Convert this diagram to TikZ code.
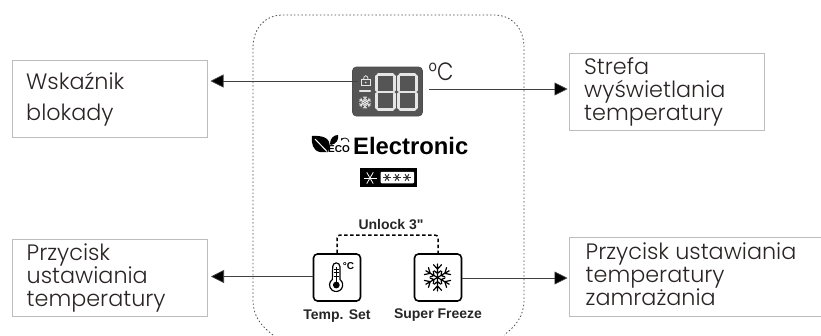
\documentclass[tikz,border=0pt]{standalone}
\usepackage{fontspec}
\setmainfont{Poppins Light}
\newfontfamily\heavy{Liberation Sans}
\usetikzlibrary{arrows.meta}
\definecolor{boxgray}{HTML}{BDBDBD}
\definecolor{txt}{HTML}{2A2424}
\definecolor{panel}{HTML}{555555}
\definecolor{seg}{HTML}{E6E6E6}
\tikzset{
  x=1pt,y=-1pt,
  infobox/.style={draw=boxgray,line width=1pt,fill=white,inner sep=0pt,anchor=north west},
  infotext/.style={anchor=north west,inner sep=0pt,align=left,text=txt,font=\fontsize{22.3}{23}\selectfont},
  flow/.style={draw=black!75,line width=0.7pt,shorten >=2pt,-{Triangle[length=13pt,width=13pt,fill=black]}},
  button/.style={draw=black,line width=1.6pt,rounded corners=4pt,fill=white,minimum width=47pt,minimum height=47pt,inner sep=0pt},
  btnlabel/.style={font=\heavy\bfseries\fontsize{14}{14}\selectfont,text=black!85,inner sep=0pt},
  sg/.style={line width=2.5pt,draw=seg,line cap=round},
}
\newcommand{\digitat}[2]{%
 \begin{scope}[shift={(#1,#2)}]
  \draw[sg] (1.5,0)--(16.5,0) (1.5,17.5)--(16.5,17.5) (1.5,35)--(16.5,35)
            (0,1.5)--(0,16) (0,19)--(0,33.5) (18,1.5)--(18,16) (18,19)--(18,33.5);
 \end{scope}}
\newcommand{\flake}[4]{% x y scale linewidth/colour
 \begin{scope}[shift={(#1,#2)},scale=#3]
  \foreach \a in {30,90,150,210,270,330}{
   \begin{scope}[rotate=\a]
    \draw[#4,line cap=round] (0,0)--(10,0) (6.2,0)--(9.5,3) (6.2,0)--(9.5,-3) (3,0)--(5,2.4) (3,0)--(5,-2.4);
   \end{scope}}
 \end{scope}}
\newcommand{\sixstar}[4]{%
 \foreach \a in {0,60,120}{\draw[#4,line cap=butt] ([shift={(\a:#3)}]#1,#2) -- ([shift={(\a+180:#3)}]#1,#2);}}
\begin{document}
\begin{tikzpicture}
\useasboundingbox (0,0) rectangle (821,335);
% panel outline
\begin{scope}
\clip (0,0) rectangle (821,335);
\draw[black!70,line width=0.8pt,dash pattern=on 1.5pt off 2.2pt] (273,335) .. controls (261,326) and (253,316) .. (253,300) -- (253,48)
  .. controls (253,28) and (265,15) .. (283,15) -- (494,15)
  .. controls (512,15) and (524,28) .. (524,48) -- (524,300) .. controls (524,316) and (516,326) .. (504,335);
\end{scope}
% boxes
\node[infobox,minimum width=195pt,minimum height=77pt] (lock) at (11.5,60) {};
\node[infobox,minimum width=195pt,minimum height=77pt] (tset) at (12,238.5) {};
\node[infobox,minimum width=195pt,minimum height=77pt] (zone) at (569,52.5) {};
\node[infobox,minimum width=260pt,minimum height=79pt] (frz) at (569,236.5) {};
\node[infotext,font=\fontsize{22.3}{31}\selectfont] (t1) at (26,72.5) {Wskaźnik\\blokady};
\node[infotext] (t2) at (26.5,243.5) {Przycisk\\ustawiania\\temperatury};
\node[infotext] (t3) at (584,57) {Strefa\\wyświetlania\\temperatury};
\node[infotext] (t4) at (585.5,243) {Przycisk ustawiania\\temperatury\\zamrażania};
% display
\node[draw=black!70,fill=panel,line width=0.8pt,rounded corners=4pt,minimum width=70pt,minimum height=49pt,inner sep=0pt] (disp) at (387.5,91.5) {};
\digitat{376.5}{74.5}
\digitat{398.5}{74.5}
\draw[seg,line width=2.4pt,line cap=round] (360,91)--(370,91);
\draw[seg,line width=0.8pt] (361.5,79.5) rectangle (370,85.5);
\draw[seg,line width=0.8pt] (363.5,79.5) arc[start angle=180,end angle=360,x radius=2.3,y radius=3.8];
\fill[seg] (365.7,82.5) circle (0.8);
\flake{365}{102.5}{0.6}{line width=0.8pt,seg}
\coordinate (lockend) at (358,81);
\coordinate (dispend) at (429,89);
\node[inner sep=0pt,text=txt,xscale=.85,font=\fontsize{25}{25}\selectfont] (deg) at (441,72) {°C};
% logo
\node[inner sep=0pt,anchor=west,font=\heavy\bfseries\fontsize{23.8}{24}\selectfont,text=black] (brand) at (353,146) {Electronic};
\fill[black] (312,136) .. controls (326,135) and (333,140) .. (328,152) -- (320,152) .. controls (313,151) and (311,143) .. (312,136) -- cycle;
\draw[white,line width=1pt] (315,139) -- (327,151.5);
\fill[black] (330,144) .. controls (330,138) and (334,135) .. (338,135) .. controls (339,140) and (336,144) .. (331,145) -- cycle;
\node[inner sep=0pt,anchor=center,font=\heavy\bfseries\fontsize{10}{10}\selectfont] (eco) at (339,148.7) {ECO};
\draw[black,line width=0.8pt,-{Stealth[length=2.5pt]}] (349,142) arc[start angle=0,end angle=-160,radius=4];
% star badge
\node[fill=black,minimum width=56.5pt,minimum height=18.5pt,inner sep=0pt] (badge) at (388.3,177.5) {};
\node[fill=white,rounded corners=1pt,minimum width=33.5pt,minimum height=11.5pt,inner sep=0pt] (stars) at (397.3,177.5) {};
\sixstar{370}{178}{6.5}{white,line width=0.8pt}
\sixstar{387}{177.5}{3.8}{black!80,line width=1pt}
\sixstar{397}{177.5}{3.8}{black!80,line width=1pt}
\sixstar{407}{177.5}{3.8}{black!80,line width=1pt}
% buttons
\node[button] (bt) at (337,277.5) {};
\node[button] (bf) at (438,277.5) {};
\coordinate (c1) at (338,235);
\coordinate (c2) at (437,235);
\draw[black,line width=1.5pt,dash pattern=on 3.5pt off 2.5pt,rounded corners=3pt] (bt.north) -- (bt.north |- c1) -- (bf.north |- c2) -- (bf.north);
\node[btnlabel] (ul) at (391,225) {Unlock 3"};
\node[btnlabel] (bl1) at (337,316) {Temp. Set};
\node[btnlabel] (bl2) at (438,315) {Super Freeze};
% thermometer
\draw[black,line width=1.2pt] (332.7,266.5) arc[start angle=180,end angle=360,radius=3.6] -- (339.9,279.5) arc[start angle=-55,end angle=235,radius=6.6] -- cycle;
\fill[black] (336.3,285) circle (3.4);
\draw[black,line width=1pt] (336.3,267)--(336.3,285);
\draw[black,line width=.6pt] (333.5,269)--(335.5,269) (333.5,272.5)--(335.5,272.5) (333.5,276)--(335.5,276) (337,269)--(339,269) (337,272.5)--(339,272.5) (337,276)--(339,276);
\node[inner sep=0pt,font=\heavy\bfseries\fontsize{10}{10}\selectfont] (deg2) at (348.5,266) {°C};
\flake{437.5}{277.5}{1.35}{line width=1.2pt,black}
% connectors
\coordinate (y1) at (0,276.5);
\coordinate (y2) at (0,278);
\draw[flow,shorten >=3pt] (lockend) -- (lock.east |- lockend);
\draw[flow,shorten >=1.5pt] (dispend) -- (zone.west |- dispend);
\draw[flow,shorten >=3pt] (bt.west |- y1) -- (tset.east |- y1);
\draw[flow,shorten >=1.5pt] (bf.east |- y2) -- (frz.west |- y2);
\end{tikzpicture}
\end{document}
